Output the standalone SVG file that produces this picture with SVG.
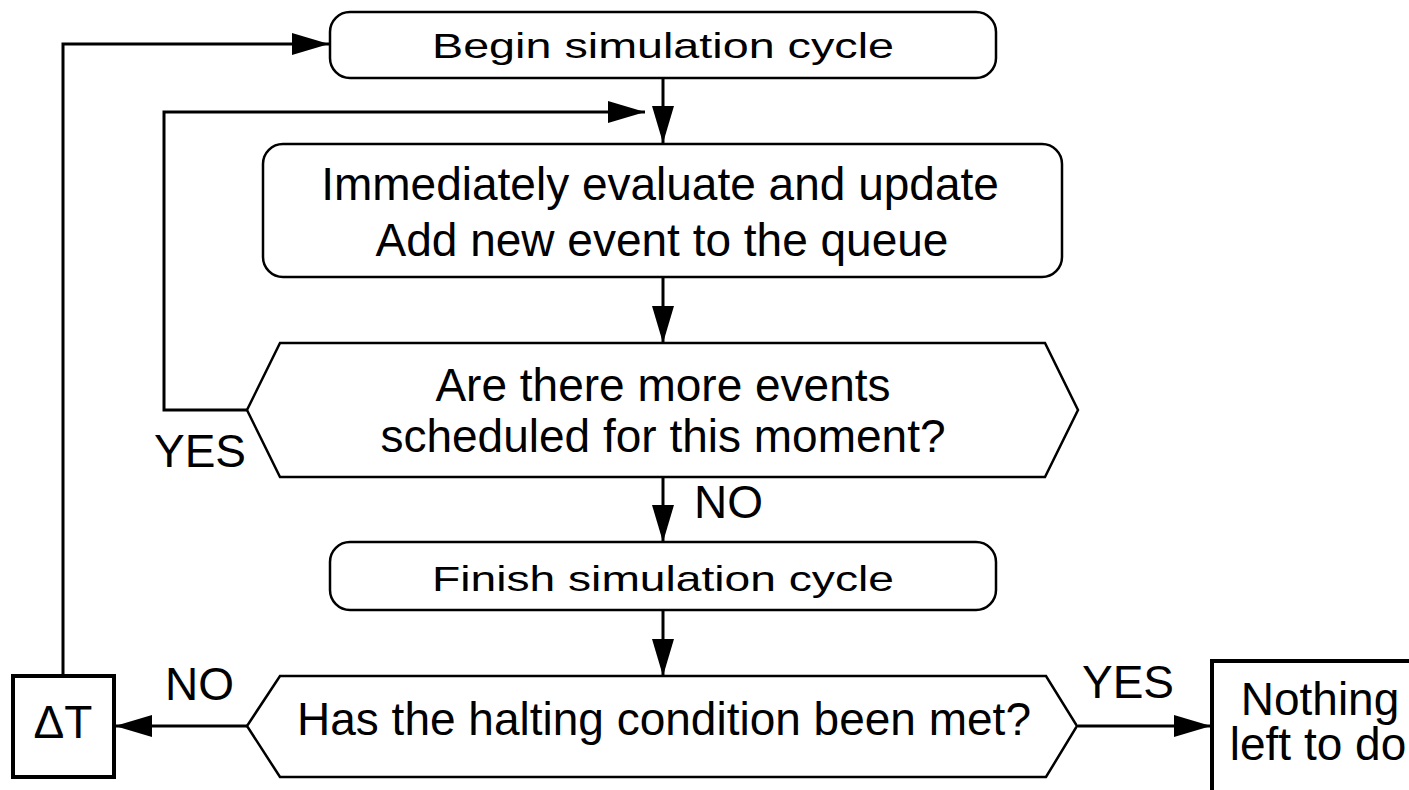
<svg xmlns="http://www.w3.org/2000/svg" width="1409" height="790" viewBox="0 0 1409 790">
<style>
  .shape { fill: #fff; stroke: #000; stroke-width: 2.5; }
  .thick { fill: #fff; stroke: #000; stroke-width: 4; }
  .conn { fill: none; stroke: #000; stroke-width: 3; marker-end: url(#arrow); }
  text { font-family: "Liberation Sans", Arial, Helvetica, sans-serif; fill: #000; }
  .big { font-size: 46px; text-anchor: middle; }
  .small { font-size: 35px; text-anchor: middle; }
  .lbl { font-size: 46px; }
</style>
<defs>
  <marker id="arrow" markerUnits="userSpaceOnUse" markerWidth="38" markerHeight="22" refX="37" refY="11" orient="auto">
    <path d="M0,0 L37,11 L0,22 z" fill="#000"/>
  </marker>
</defs>
<rect width="1409" height="790" fill="#fff"/>

<g id="connectors">
  <path class="conn" d="M663,78 L663,143"/>
  <path class="conn" d="M247,410 L164,410 L164,112 L645,112"/>
  <path class="conn" d="M663,277 L663,343"/>
  <path class="conn" d="M663,477 L663,542"/>
  <path class="conn" d="M663,610 L663,676"/>
  <path class="conn" d="M247,726 L115,726"/>
  <path class="conn" d="M63,675 L63,44 L329,44"/>
  <path class="conn" d="M1078,726 L1211,726"/>
</g>

<g id="begin">
  <rect class="shape" x="330" y="12" width="666" height="66" rx="20" ry="20"/>
  <text class="small" x="663" y="58" textLength="462" lengthAdjust="spacingAndGlyphs">Begin simulation cycle</text>
</g>

<g id="evaluate">
  <rect class="shape" x="263" y="144" width="799" height="133" rx="20" ry="20"/>
  <text class="big" x="660" y="200">Immediately evaluate and update</text>
  <text class="big" x="662" y="256">Add new event to the queue</text>
</g>

<g id="more-events">
  <polygon class="shape" points="280,343 1045,343 1078,410 1045,477 280,477 247,410"/>
  <text class="big" x="663" y="401">Are there more events</text>
  <text class="big" x="663" y="452">scheduled for this moment?</text>
  <text class="lbl" x="154" y="467">YES</text>
</g>

<g id="finish">
  <rect class="shape" x="330" y="542" width="666" height="68" rx="20" ry="20"/>
  <text class="small" x="663" y="591" textLength="462" lengthAdjust="spacingAndGlyphs">Finish simulation cycle</text>
  <text class="lbl" x="694" y="518">NO</text>
</g>

<g id="halting">
  <polygon class="shape" points="280,676 1046,676 1077,726 1046,777 280,777 247,726"/>
  <text class="big" x="664" y="735">Has the halting condition been met?</text>
  <text class="lbl" x="165" y="700">NO</text>
  <text class="lbl" x="1082" y="698">YES</text>
</g>

<g id="delta-t">
  <rect class="thick" x="13" y="676" width="101" height="101"/>
  <text class="big" x="63" y="738">ΔT</text>
</g>

<g id="nothing">
  <rect class="thick" x="1212" y="661" width="230" height="140"/>
  <text class="big" x="1320" y="715">Nothing</text>
  <text class="big" x="1318" y="760">left to do</text>
</g>
</svg>
